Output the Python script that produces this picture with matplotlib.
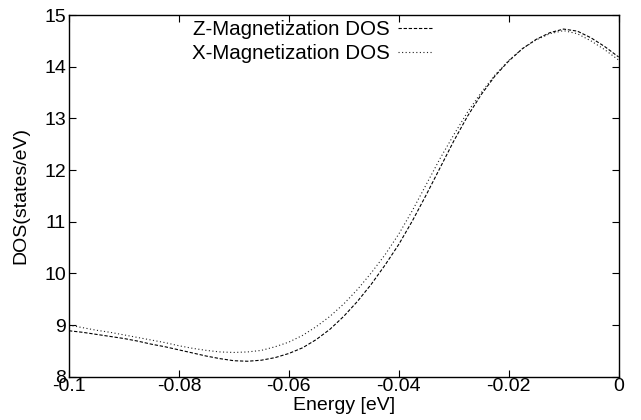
import numpy as np
import matplotlib
matplotlib.use("Agg")
import matplotlib.pyplot as plt

plt.rcParams['font.family'] = ['Liberation Sans', 'DejaVu Sans']

# energy grid [eV], every 0.0025 eV
energy = np.linspace(-0.1, 0.0, 41)

# Z-Magnetization DOS (dashed)
dos_z = [8.89, 8.86, 8.82, 8.78, 8.74, 8.69, 8.63, 8.58, 8.52, 8.46,
         8.40, 8.35, 8.31, 8.30, 8.32, 8.37, 8.45, 8.56, 8.72, 8.92,
         9.17, 9.46, 9.79, 10.16, 10.56, 11.02, 11.52, 12.04, 12.56, 13.04,
         13.46, 13.82, 14.11, 14.35, 14.53, 14.66, 14.73, 14.69, 14.56, 14.39,
         14.19]

# X-Magnetization DOS (dotted)
dos_x = [9.00, 8.95, 8.90, 8.86, 8.81, 8.76, 8.71, 8.66, 8.60, 8.55,
         8.51, 8.48, 8.47, 8.48, 8.51, 8.58, 8.67, 8.80, 8.97, 9.17,
         9.41, 9.69, 10.01, 10.36, 10.76, 11.22, 11.72, 12.22, 12.68, 13.12,
         13.50, 13.84, 14.12, 14.35, 14.52, 14.64, 14.70, 14.64, 14.50, 14.33,
         14.13]

xticks = [-0.1, -0.08, -0.06, -0.04, -0.02, 0.0]
xticklabels = ["-0.1", "-0.08", "-0.06", "-0.04", "-0.02", "0"]
yticks = [8, 9, 10, 11, 12, 13, 14, 15]

fig = plt.figure(figsize=(6.41, 4.2), dpi=100)
ax = fig.add_axes([0.1076, 0.103, 0.8574, 0.861])

ax.plot(energy, dos_z, color='black', lw=0.8, linestyle=(0, (3, 1.6)),
        label='Z-Magnetization DOS')
ax.plot(energy, dos_x, color='#222222', lw=0.8, linestyle=(0, (1, 2.2)),
        label='X-Magnetization DOS')

ax.set_xlim(-0.1, 0.0)
ax.set_ylim(8, 15)
ax.set_xticks(xticks)
ax.set_xticklabels(xticklabels)
ax.set_yticks(yticks)
ax.set_yticklabels([str(v) for v in yticks])

ax.tick_params(direction='in', top=True, right=True, length=5, width=0.8,
               labelsize=14)
ax.tick_params(axis='x', pad=1)
ax.tick_params(axis='y', pad=2)
for s in ax.spines.values():
    s.set_linewidth(1.0)

ax.set_xlabel('Energy [eV]', fontsize=14, labelpad=1)
ax.set_ylabel('DOS(states/eV)', fontsize=14, labelpad=11)

ax.legend(loc='upper right', bbox_to_anchor=(0.677, 1.008), frameon=False,
          markerfirst=False, fontsize=14.8, handlelength=1.7,
          handletextpad=0.4, labelspacing=0.22, borderaxespad=0.0)

fig.savefig('out.png', dpi=100)
